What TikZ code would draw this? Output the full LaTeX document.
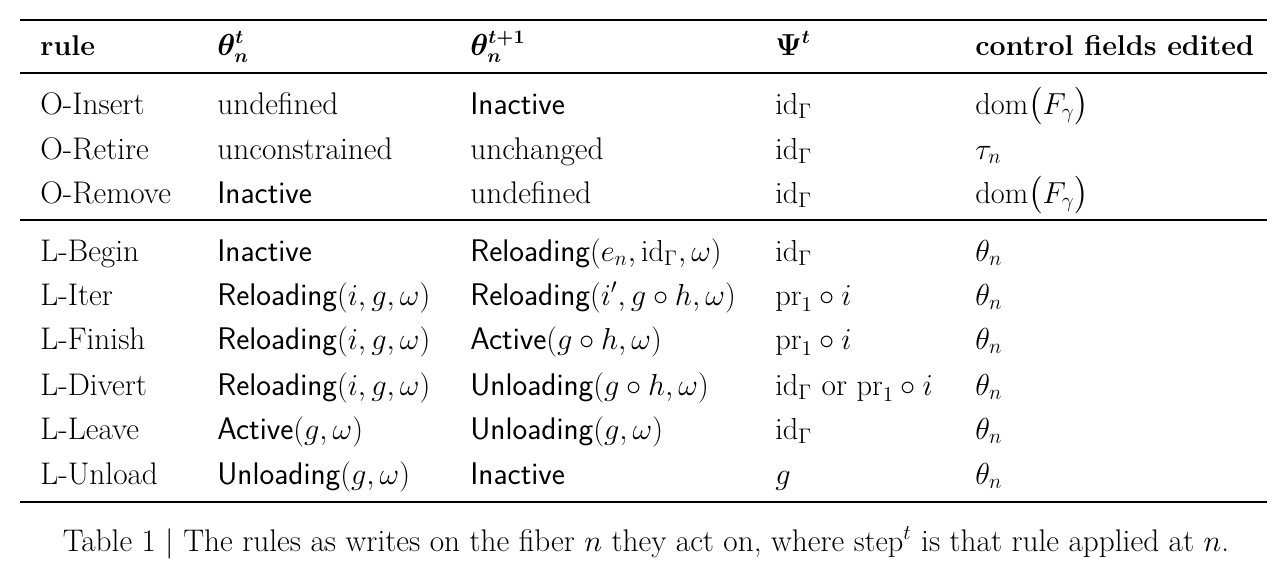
\documentclass[tikz,border=0pt]{standalone}
\usepackage{amsmath,amssymb,bm}
\usetikzlibrary{positioning}
\tikzset{
  cell/.style={anchor=base west,inner sep=0pt,font=\fontsize{17.8}{21}\selectfont},
  head/.style={cell,font=\fontsize{16.3}{20}\selectfont\bfseries},
  thick rule/.style={line width=1.6pt},
  thin rule/.style={line width=0.8pt}
}
\newcommand{\st}[1]{\textsf{#1}}
\newcommand{\idG}{\mathrm{id}_\Gamma}
\begin{document}
\begin{tikzpicture}[x=0.02cm,y=-0.02cm]
  \useasboundingbox (0,0) rectangle (1287,578);
  % rules
  \coordinate (tl) at (20,20);  \coordinate (tr) at (1267,20);
  \coordinate (hl) at (20,73);  \coordinate (hr) at (1267,73);
  \coordinate (ml) at (20,220); \coordinate (mr) at (1267,220);
  \coordinate (bl) at (20,502); \coordinate (br) at (1267,502);
  \draw[thick rule] (tl) -- (tr);
  \draw[thin rule] (hl) -- (hr);
  \draw[thin rule] (ml) -- (mr);
  \draw[thick rule] (bl) -- (br);
  % header
  \node[head] (h1) at (40,55) {rule};
  \node[head] (h2) at (217,55) {$\bm{\theta^t_n}$};
  \node[head] (h3) at (470,55) {$\bm{\theta^{t+1}_n}$};
  \node[head] (h4) at (775,55) {$\bm{\Psi^t}$};
  \node[head] (h5) at (975,55) {control fields edited};
  % object rules
  \node[cell] (a1) at (40,114) {O-Insert};
  \node[cell] (a2) at (217,114) {undefined};
  \node[cell] (a3) at (470,114) {\st{Inactive}};
  \node[cell] (a4) at (775,114) {$\idG$};
  \node[cell] (a5) at (975,114) {$\mathrm{dom}\bigl(F_\gamma\bigr)$};
  \node[cell] (b1) at (40,159) {O-Retire};
  \node[cell] (b2) at (217,159) {unconstrained};
  \node[cell] (b3) at (470,159) {unchanged};
  \node[cell] (b4) at (775,159) {$\idG$};
  \node[cell] (b5) at (975,159) {$\tau_n$};
  \node[cell] (c1) at (40,203) {O-Remove};
  \node[cell] (c2) at (217,203) {\st{Inactive}};
  \node[cell] (c3) at (470,203) {undefined};
  \node[cell] (c4) at (775,203) {$\idG$};
  \node[cell] (c5) at (975,203) {$\mathrm{dom}\bigl(F_\gamma\bigr)$};
  % loading rules
  \node[cell] (d1) at (40,261) {L-Begin};
  \node[cell] (d2) at (217,261) {\st{Inactive}};
  \node[cell] (d3) at (470,261) {\st{Reloading}$(e_n,\idG,\omega)$};
  \node[cell] (d4) at (775,261) {$\idG$};
  \node[cell] (d5) at (975,261) {$\theta_n$};
  \node[cell] (e1) at (40,305) {L-Iter};
  \node[cell] (e2) at (217,305) {\st{Reloading}$(i,g,\omega)$};
  \node[cell] (e3) at (470,305) {\st{Reloading}$(i',g\circ h,\omega)$};
  \node[cell] (e4) at (775,305) {$\mathrm{pr}_1\circ i$};
  \node[cell] (e5) at (975,305) {$\theta_n$};
  \node[cell] (f1) at (40,349) {L-Finish};
  \node[cell] (f2) at (217,349) {\st{Reloading}$(i,g,\omega)$};
  \node[cell] (f3) at (470,349) {\st{Active}$(g\circ h,\omega)$};
  \node[cell] (f4) at (775,349) {$\mathrm{pr}_1\circ i$};
  \node[cell] (f5) at (975,349) {$\theta_n$};
  \node[cell] (g1) at (40,395) {L-Divert};
  \node[cell] (g2) at (217,395) {\st{Reloading}$(i,g,\omega)$};
  \node[cell] (g3) at (470,395) {\st{Unloading}$(g\circ h,\omega)$};
  \node[cell] (g4) at (775,395) {$\idG$ or $\mathrm{pr}_1\circ i$};
  \node[cell] (g5) at (975,395) {$\theta_n$};
  \node[cell] (k1) at (40,439) {L-Leave};
  \node[cell] (k2) at (217,439) {\st{Active}$(g,\omega)$};
  \node[cell] (k3) at (470,439) {\st{Unloading}$(g,\omega)$};
  \node[cell] (k4) at (775,439) {$\idG$};
  \node[cell] (k5) at (975,439) {$\theta_n$};
  \node[cell] (m1) at (40,484) {L-Unload};
  \node[cell] (m2) at (217,484) {\st{Unloading}$(g,\omega)$};
  \node[cell] (m3) at (470,484) {\st{Inactive}};
  \node[cell] (m4) at (775,484) {$g$};
  \node[cell] (m5) at (975,484) {$\theta_n$};
  % caption
  \node[cell,anchor=base] (cap) at (646,551) {Table 1 $|$ The rules as writes on the fiber $n$ they act on, where $\mathrm{step}^t$ is that rule applied at $n$.};
\end{tikzpicture}
\end{document}
